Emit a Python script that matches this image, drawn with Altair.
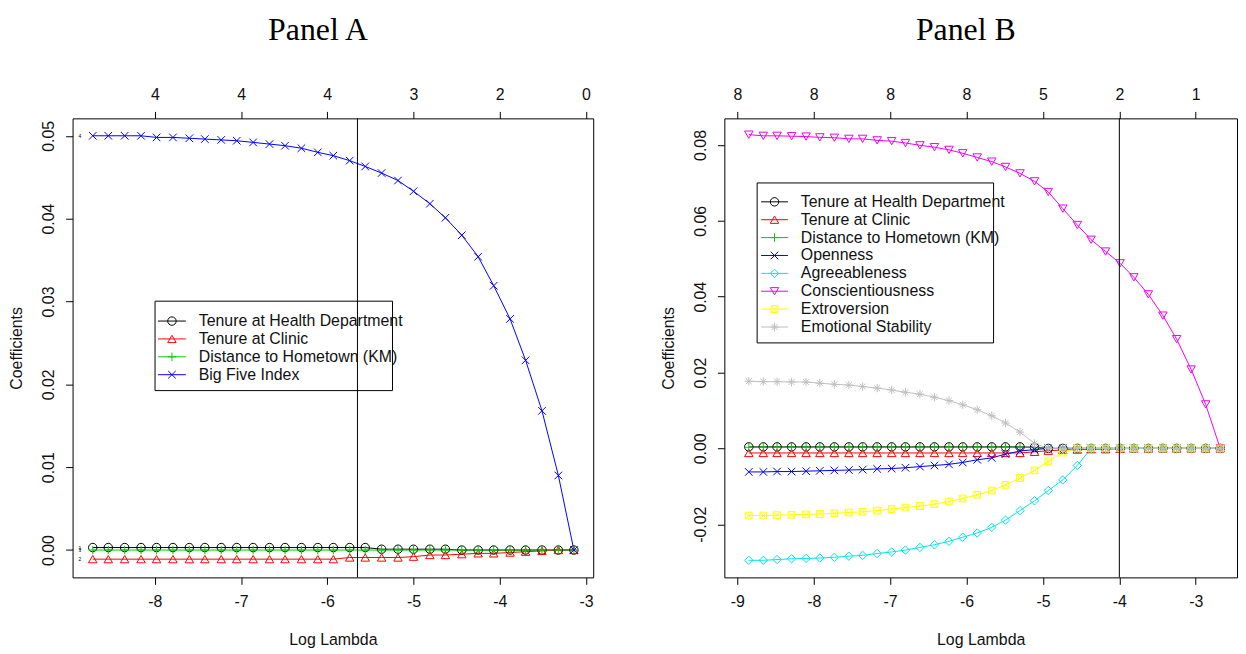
import altair as alt
import pandas as pd

# ---------------- data ----------------
names_A = ["Tenure at Health Department", "Tenure at Clinic",
           "Distance to Hometown (KM)", "Big Five Index"]
lam_A = [-8.72, -8.54, -8.35, -8.16, -7.98, -7.79, -7.60, -7.42, -7.23, -7.05,
         -6.86, -6.67, -6.49, -6.30, -6.11, -5.93, -5.74, -5.56, -5.37, -5.18,
         -5.00, -4.81, -4.63, -4.44, -4.25, -4.07, -3.88, -3.70, -3.51, -3.32, -3.14]
A_health = [0.0003, 0.0003, 0.0003, 0.0003, 0.0003, 0.0003, 0.0003, 0.0003, 0.0003, 0.0003,
            0.0003, 0.0003, 0.0003, 0.0003, 0.0003, 0.0003, 0.0003, 0.0003, 0.0001, 0.0001,
            0.0001, 0.0001, 0.0001, 0.0, 0.0, 0.0, 0.0, 0.0, 0.0, 0.0, 0.0]
A_clinic = [-0.0011, -0.0011, -0.0011, -0.0011, -0.0011, -0.0011, -0.0011, -0.0011, -0.0011, -0.0011,
            -0.0011, -0.0011, -0.0011, -0.0011, -0.0011, -0.0011, -0.0009, -0.0009, -0.0009, -0.0009,
            -0.0008, -0.0006, -0.0006, -0.0005, -0.0004, -0.0004, -0.0003, -0.0002, -0.0001, 0.0, 0.0]
A_distance = [0.0, 0.0, 0.0, 0.0, 0.0, 0.0, 0.0, 0.0, 0.0, 0.0,
              0.0, 0.0, 0.0, 0.0, 0.0, 0.0, 0.0, 0.0, 0.0, 0.0,
              0.0, 0.0, 0.0, 0.0, 0.0, 0.0, 0.0, 0.0, 0.0, 0.0, 0.0]
A_bigfive = [0.0500, 0.0500, 0.0500, 0.0500, 0.0498, 0.0498, 0.0497, 0.0496, 0.0495, 0.0494,
             0.0492, 0.0490, 0.0488, 0.0485, 0.0480, 0.0476, 0.0470, 0.0463, 0.0455, 0.0446,
             0.0433, 0.0418, 0.0401, 0.0380, 0.0354, 0.0319, 0.0279, 0.0229, 0.0168, 0.0090, 0.0]
A_top_ticks = [-8, -7, -6, -5, -4, -3]
A_top_labels = ["4", "4", "4", "3", "2", "0"]
A_yticks = [0.0, 0.01, 0.02, 0.03, 0.04, 0.05]
A_vline = [-5.65]
A_tiny = ["1", "2", "3", "4"]

names_B = ["Tenure at Health Department", "Tenure at Clinic", "Distance to Hometown (KM)",
           "Openness", "Agreeableness", "Conscientiousness", "Extroversion", "Emotional Stability"]
lam_B = [-8.85, -8.66, -8.48, -8.29, -8.10, -7.92, -7.73, -7.54, -7.36, -7.17,
         -6.98, -6.80, -6.61, -6.42, -6.23, -6.05, -5.86, -5.67, -5.49, -5.30,
         -5.11, -4.93, -4.74, -4.55, -4.37, -4.18, -3.99, -3.81, -3.62, -3.43,
         -3.25, -3.06, -2.87, -2.68]
B_health = [0.0004, 0.0004, 0.0004, 0.0004, 0.0004, 0.0004, 0.0004, 0.0004, 0.0004, 0.0004,
            0.0004, 0.0004, 0.0004, 0.0004, 0.0004, 0.0004, 0.0004, 0.0004, 0.0004, 0.0004,
            0.0003, 0.0, 0.0, 0.0, 0.0, 0.0, 0.0, 0.0, 0.0, 0.0,
            0.0, 0.0, 0.0, 0.0]
B_clinic = [-0.0012, -0.0012, -0.0012, -0.0012, -0.0012, -0.0012, -0.0012, -0.0012, -0.0012, -0.0012,
            -0.0012, -0.0012, -0.0012, -0.0012, -0.0012, -0.0012, -0.0012, -0.0012, -0.0012, -0.0012,
            -0.0009, -0.0006, -0.0004, -0.0003, -0.0002, -0.0002, -0.0001, 0.0, 0.0, 0.0,
            0.0, 0.0, 0.0, 0.0]
B_distance = [0.0003, 0.0003, 0.0003, 0.0003, 0.0003, 0.0003, 0.0003, 0.0003, 0.0003, 0.0003,
              0.0003, 0.0003, 0.0003, 0.0003, 0.0003, 0.0003, 0.0003, 0.0003, 0.0003, 0.0003,
              0.0002, 0.0, 0.0, 0.0, 0.0, 0.0, 0.0, 0.0, 0.0, 0.0,
              0.0, 0.0, 0.0, 0.0]
B_openness = [-0.0062, -0.0062, -0.0061, -0.0061, -0.0060, -0.0059, -0.0058, -0.0057, -0.0056, -0.0054,
              -0.0053, -0.0051, -0.0048, -0.0045, -0.0042, -0.0037, -0.0030, -0.0025, -0.0015, -0.0007,
              -0.0003, 0.0, 0.0, 0.0, 0.0, 0.0, 0.0, 0.0, 0.0, 0.0,
              0.0, 0.0, 0.0, 0.0]
B_agree = [-0.0295, -0.0295, -0.0293, -0.0291, -0.0290, -0.0289, -0.0287, -0.0284, -0.0282, -0.0277,
           -0.0273, -0.0268, -0.0261, -0.0254, -0.0245, -0.0234, -0.0223, -0.0208, -0.0189, -0.0164,
           -0.0138, -0.0111, -0.0083, -0.0045, 0.0, 0.0, 0.0, 0.0, 0.0, 0.0,
           0.0, 0.0, 0.0, 0.0]
B_consc = [0.0827, 0.0824, 0.0824, 0.0823, 0.0822, 0.0820, 0.0819, 0.0816, 0.0816, 0.0812,
           0.0810, 0.0805, 0.0799, 0.0794, 0.0787, 0.0778, 0.0767, 0.0756, 0.0742, 0.0725,
           0.0704, 0.0676, 0.0632, 0.0589, 0.0550, 0.0519, 0.0488, 0.0451, 0.0406, 0.0350,
           0.0288, 0.0208, 0.0116, 0.0]
B_extro = [-0.0177, -0.0177, -0.0176, -0.0175, -0.0174, -0.0173, -0.0171, -0.0169, -0.0167, -0.0164,
           -0.0160, -0.0156, -0.0152, -0.0147, -0.0140, -0.0132, -0.0122, -0.0111, -0.0096, -0.0078,
           -0.0058, -0.0034, -0.0011, 0.0, 0.0, 0.0, 0.0, 0.0, 0.0, 0.0,
           0.0, 0.0, 0.0, 0.0]
B_emot = [0.0177, 0.0176, 0.0176, 0.0175, 0.0175, 0.0172, 0.0169, 0.0167, 0.0163, 0.0159,
          0.0154, 0.0148, 0.0143, 0.0135, 0.0126, 0.0115, 0.0102, 0.0086, 0.0067, 0.0043,
          0.0013, 0.0, 0.0, 0.0, 0.0, 0.0, 0.0, 0.0, 0.0, 0.0,
          0.0, 0.0, 0.0, 0.0]
B_top_ticks = [-9, -8, -7, -6, -5, -4, -3]
B_top_labels = ["8", "8", "8", "8", "5", "2", "1"]
B_yticks = [-0.02, 0.0, 0.02, 0.04, 0.06, 0.08]
B_vline = [-4.0]

# ---------------- styles ----------------
R_COLORS = ["#000000", "#FF0000", "#00CD00", "#0000FF", "#00E5E5", "#F000F0", "#FFFF00", "#BEBEBE"]
R_SHAPES = [
    "circle",
    "triangle-up",
    "M-1,0L1,0M0,-1L0,1",
    "M-0.9,-0.9L0.9,0.9M-0.9,0.9L0.9,-0.9",
    "diamond",
    "triangle-down",
    "M-0.8,-0.8L0.8,-0.8L0.8,0.8L-0.8,0.8ZM-0.8,-0.8L0.8,0.8M-0.8,0.8L0.8,-0.8",
    "M-1,0L1,0M0,-1L0,1M-0.7,-0.7L0.7,0.7M-0.7,0.7L0.7,-0.7",
]
SANS = "Liberation Sans"
SERIF = "Liberation Serif"
FS = 16
MSIZE = 72


def tick_expr(ticks, labels):
    expr = "''"
    for t, l in reversed(list(zip(ticks, labels))):
        expr = f"datum.value == {t} ? '{l}' : ({expr})"
    return expr


def panel(title, names, lam, values, xdom, ydom, xticks, top_labels, yticks, vline,
          width, height, box, rows, seg, tiny=None):
    n = len(names)
    colors = R_COLORS[:n]
    shapes = R_SHAPES[:n]
    recs = []
    for name, vals in zip(names, values):
        for l, v in zip(lam, vals):
            recs.append({"series": name, "lam": l, "coef": v})
    df = pd.DataFrame(recs)

    cscale = alt.Scale(domain=names, range=colors)
    sscale = alt.Scale(domain=names, range=shapes)
    xs = alt.Scale(domain=xdom, nice=False, zero=False)
    ys = alt.Scale(domain=ydom, nice=False, zero=False)

    common_axis = dict(grid=False, domain=False, ticks=True, tickSize=7, tickColor="black",
                       tickWidth=1, labelFont=SANS, labelFontSize=FS, labelColor="#111",
                       titleFont=SANS, titleFontSize=FS, titleFontWeight="normal",
                       titleColor="#111", labelOverlap=False, labelFlush=False)
    bottom_axis = alt.Axis(values=xticks, title="Log Lambda", labelPadding=9,
                           titlePadding=23, labelExpr="toString(datum.value)", **common_axis)
    top_axis = alt.Axis(orient="top", values=xticks, title=None, labelPadding=9,
                        labelExpr=tick_expr(xticks, top_labels), **common_axis)
    left_axis = alt.Axis(orient="left", values=yticks, title="Coefficients", labelAngle=270,
                         labelAlign="center", labelBaseline="bottom", labelPadding=9,
                         titlePadding=16,
                         labelExpr="datum.value < 0 ? '-' + format(-datum.value, '.2f') : format(datum.value, '.2f')",
                         **common_axis)

    color = alt.Color("series:N", scale=cscale, legend=None)
    shape = alt.Shape("series:N", scale=sscale, legend=None)

    lines = alt.Chart(df).mark_line(strokeWidth=1, clip=True).encode(
        x=alt.X("lam:Q", scale=xs, axis=bottom_axis),
        y=alt.Y("coef:Q", scale=ys, axis=left_axis),
        color=color, detail="series:N")
    pts = alt.Chart(df).mark_point(filled=False, size=MSIZE, strokeWidth=1, opacity=1, clip=True).encode(
        x=alt.X("lam:Q", scale=xs, axis=None),
        y=alt.Y("coef:Q", scale=ys, axis=None),
        color=color, shape=shape)
    rule = alt.Chart(pd.DataFrame({"lam": vline})).mark_rule(color="black", strokeWidth=1).encode(
        x=alt.X("lam:Q", scale=xs, axis=top_axis))
    layers = [lines, pts, rule]
    if tiny is not None:
        tdf = pd.DataFrame({"lab": tiny, "lam": [lam[0] - 0.15] * len(tiny),
                            "coef": [v[0] for v in values]})
        layers.append(alt.Chart(tdf).mark_text(fontSize=5, font=SANS, color="black",
                                               baseline="middle").encode(
            x=alt.X("lam:Q", scale=xs, axis=None),
            y=alt.Y("coef:Q", scale=ys, axis=None), text="lab:N"))

    # legend (pixel layout inside the plot area)
    step = (rows[1] - rows[0]) / (n - 1)
    ldf = pd.DataFrame({"series": names, "py": [rows[0] + i * step for i in range(n)]})
    ly = alt.Y("py:Q", scale=None, axis=None)
    layers.append(alt.Chart(pd.DataFrame({"k": [0]})).mark_rect(
        filled=False, color="black", strokeWidth=1).encode(
        x=alt.value(box[0]), x2=alt.value(box[1]), y=alt.value(box[2]), y2=alt.value(box[3])))
    layers.append(alt.Chart(ldf).mark_rule(strokeWidth=1).encode(
        x=alt.value(seg[0]), x2=alt.value(seg[1]), y=ly, color=color))
    layers.append(alt.Chart(ldf).mark_point(filled=False, size=MSIZE, strokeWidth=1, opacity=1).encode(
        x=alt.value((seg[0] + seg[1]) / 2), y=ly, color=color, shape=shape))
    layers.append(alt.Chart(ldf).mark_text(align="left", baseline="middle", font=SANS, fontSize=FS,
                                           color="#111").encode(
        x=alt.value(seg[2]), y=ly, text="series:N"))

    return alt.layer(*layers).resolve_axis(x="independent", y="independent").properties(
        width=width, height=height,
        title=alt.TitleParams(title, font=SERIF, fontSize=32, fontWeight="normal",
                              color="black", anchor="middle", frame="group", dx=-15, offset=40))


panelA = panel("Panel A", names_A, lam_A, [A_health, A_clinic, A_distance, A_bigfive],
               [-8.954, -2.916], [-0.0033, 0.0521], A_top_ticks, A_top_labels, A_yticks, A_vline,
               524, 462, box=[83, 322, 184, 274], rows=[204, 258], seg=[86, 114, 127], tiny=A_tiny)
panelB = panel("Panel B", names_B, lam_B,
               [B_health, B_clinic, B_distance, B_openness, B_agree, B_consc, B_extro, B_emot],
               [-9.17, -2.46], [-0.034, 0.087], B_top_ticks, B_top_labels, B_yticks, B_vline,
               516, 462, box=[33, 271, 65, 226], rows=[84, 210], seg=[37, 64, 77])

chart = alt.hconcat(panelA, panelB, spacing=66).resolve_scale(
    color="independent", shape="independent"
).properties(
    padding={"top": 3, "left": 0, "right": 0, "bottom": 0}, background="white"
).configure_view(stroke="black", strokeWidth=1)

chart.save("out.html", embed_options={"renderer": "svg", "actions": False})
